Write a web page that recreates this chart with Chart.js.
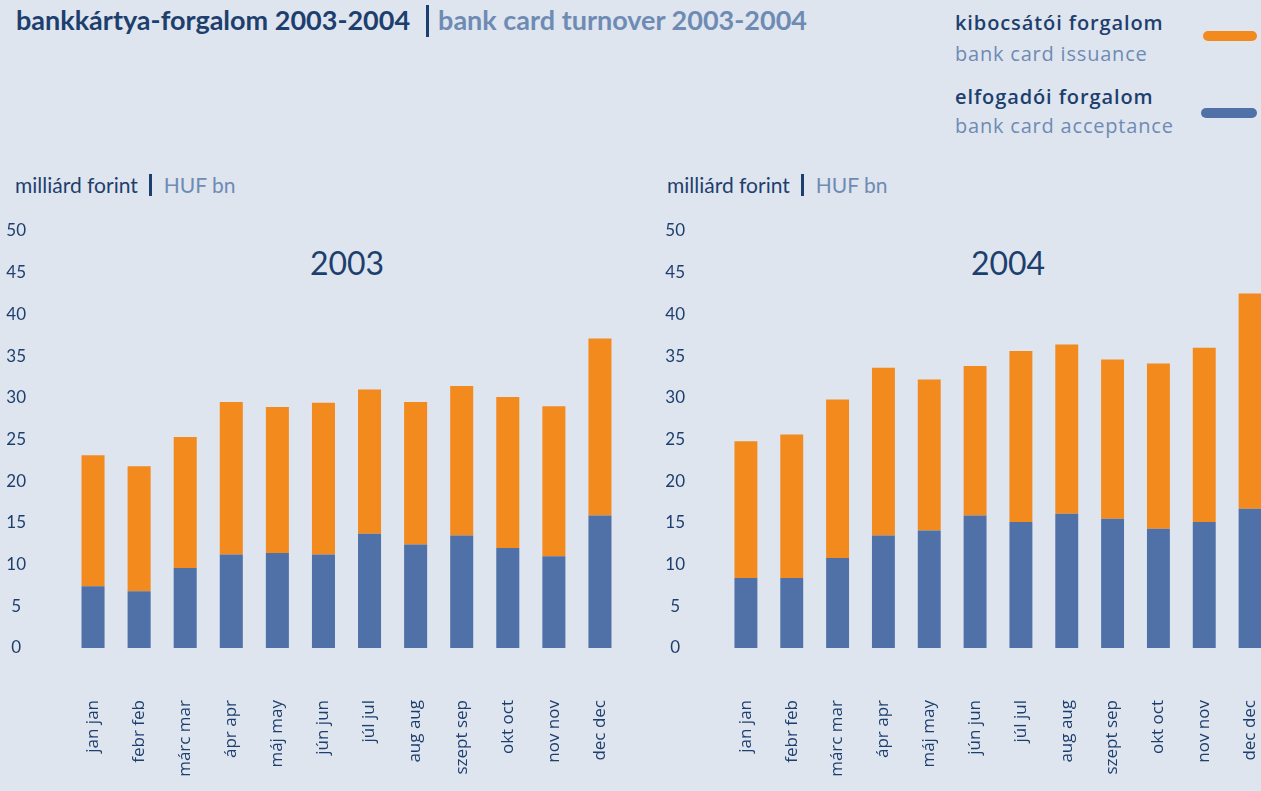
<!DOCTYPE html>
<html>
<head>
<meta charset="utf-8">
<title>bankkártya-forgalom 2003-2004</title>
<script src="https://cdn.jsdelivr.net/npm/chart.js"></script>
<style>
  html, body { margin: 0; padding: 0; }
  body {
    width: 1261px; height: 791px; overflow: hidden; position: relative;
    background: #dfe5ef; font-family: Lato, "Open Sans", sans-serif;
  }
  .abs { position: absolute; white-space: nowrap; display: flex; align-items: center; }
  .dark { color: #1d3f6e; }
  .light { color: #6e8bb4; }
  .bar { display: inline-block; width: 3px; background: #1d3f6e; }
  #title { left: 16px; top: 2px; height: 34px; font-size: 27px; font-weight: 700; }
  #title .bar { height: 32px; margin: 4px 9px 0 16px; }
  .unit { top: 172px; height: 24px; font-size: 21px; }
  .unit .bar { height: 22px; margin: 2px 12px 0 11px; }
  .year { top: 243px; font-size: 32px; color: #1d3f6e; transform: translateX(-50%); }
  .leg { left: 955px; height: 26px; font-family: "Open Sans", sans-serif; font-size: 20px; }
  .leg.dark { font-weight: 600; letter-spacing: 0.9px; }
  .leg.light { font-weight: 400; letter-spacing: 0.8px; }
  .swatch { position: absolute; height: 10px; border-radius: 5px; }
  canvas { position: absolute; top: 0; }
</style>
</head>
<body>
<div id="title" class="abs"><span class="dark">bankkártya-forgalom 2003-2004</span><span class="bar"></span><span class="light">bank card turnover 2003-2004</span></div>

<div class="abs leg dark" style="top:9px">kibocsátói forgalom</div>
<div class="abs leg light" style="top:40px">bank card issuance</div>
<div class="swatch" style="left:1203px; top:31px; width:54px; background:#f28a1e"></div>
<div class="abs leg dark" style="top:83px">elfogadói forgalom</div>
<div class="abs leg light" style="top:112px">bank card acceptance</div>
<div class="swatch" style="left:1201px; top:108px; width:56px; background:#4f71a8"></div>

<div class="abs unit" style="left:15px"><span class="dark">milliárd forint</span><span class="bar"></span><span class="light">HUF bn</span></div>
<div class="abs unit" style="left:667px"><span class="dark">milliárd forint</span><span class="bar"></span><span class="light">HUF bn</span></div>

<div class="abs year" style="left:347px">2003</div>
<div class="abs year" style="left:1008px">2004</div>

<canvas id="chart2003" width="640" height="791" style="left:0"></canvas>
<canvas id="chart2004" width="640" height="791" style="left:650px"></canvas>

<script>
const monthsHu = ["jan", "febr", "márc", "ápr", "máj", "jún", "júl", "aug", "szept", "okt", "nov", "dec"];
const monthsEn = ["jan", "feb", "mar", "apr", "may", "jun", "jul", "aug", "sep", "oct", "nov", "dec"];

// milliárd forint
const acceptance2003 = [7.4, 6.8, 9.6, 11.2, 11.4, 11.2, 13.7, 12.4, 13.5, 12.0, 11.0, 15.9];
const issuance2003 = [15.7, 15.0, 15.7, 18.3, 17.5, 18.2, 17.3, 17.1, 17.9, 18.1, 18.0, 21.2];
const acceptance2004 = [8.4, 8.4, 10.8, 13.5, 14.1, 15.9, 15.1, 16.1, 15.5, 14.3, 15.1, 16.7];
const issuance2004 = [16.4, 17.2, 19.0, 20.1, 18.1, 17.9, 20.5, 20.3, 19.1, 19.8, 20.9, 25.8];

const yTicks = [0, 5, 10, 15, 20, 25, 30, 35, 40, 45, 50];

// "márc mar": the Hungarian name is dark, the English one is drawn over it in light blue
const fullLabels = monthsHu.map((hu, i) => `${hu} ${monthsEn[i]}`);

const background = "#dfe5ef";
const darkText = "#1d3f6e";
const lightText = "#7592bb";
const orange = "#f28a1e";
const blue = "#4f71a8";

const noSidePadding = (scale) => {
  scale.paddingLeft = 0;
  scale.paddingRight = 0;
};

const makeChart = (id, acceptance, issuance, yWidth, yLabelPadding) => {
  const ctx = document.getElementById(id).getContext("2d");
  return new Chart(ctx, {
    type: "bar",
    data: {
      labels: monthsEn,
      datasets: [
        {
          label: "elfogadói forgalom",
          data: acceptance,
          backgroundColor: blue,
          barPercentage: 0.5,
          categoryPercentage: 1,
        },
        {
          label: "kibocsátói forgalom",
          data: issuance,
          backgroundColor: orange,
          barPercentage: 0.5,
          categoryPercentage: 1,
        },
      ],
    },
    options: {
      responsive: false,
      animation: false,
      layout: { padding: { top: 231, left: 0, right: 17, bottom: 0 } },
      plugins: { legend: { display: false }, tooltip: { enabled: false } },
      scales: {
        x: {
          stacked: true,
          grid: { display: false, drawTicks: false },
          border: { display: false },
          ticks: {
            color: lightText,
            font: { family: "Open Sans", size: 17 },
            minRotation: 90,
            maxRotation: 90,
            autoSkip: false,
            padding: 52,
            z: 1,
            showLabelBackdrop: true,
            backdropColor: background,
            backdropPadding: { top: 1, bottom: 1, left: 1, right: 0 },
          },
          afterFit: (scale) => {
            scale.height = 20;
            noSidePadding(scale);
          },
        },
        x2: {
          type: "category",
          labels: fullLabels,
          position: "bottom",
          offset: true,
          grid: { display: false, drawTicks: false },
          border: { display: false },
          ticks: {
            color: darkText,
            font: { family: "Open Sans", size: 17 },
            minRotation: 90,
            maxRotation: 90,
            autoSkip: false,
            padding: 32,
          },
          afterFit: (scale) => {
            scale.height = 123;
            noSidePadding(scale);
          },
        },
        y: {
          stacked: true,
          min: 0,
          max: 50,
          grid: { display: false, drawTicks: false },
          border: { display: false },
          afterBuildTicks: (scale) => { scale.ticks = yTicks.map((v) => ({ value: v })); },
          ticks: {
            color: darkText,
            font: { family: "Lato", size: 17 },
            crossAlign: "center",
            padding: yLabelPadding,
          },
          afterFit: (scale) => {
            scale.width = yWidth;
            scale.paddingTop = 0;
            scale.paddingBottom = 0;
          },
        },
      },
    },
  });
};

makeChart("chart2003", acceptance2003, issuance2003, 70, 44);
makeChart("chart2004", acceptance2004, issuance2004, 73, 38);
</script>
</body>
</html>
